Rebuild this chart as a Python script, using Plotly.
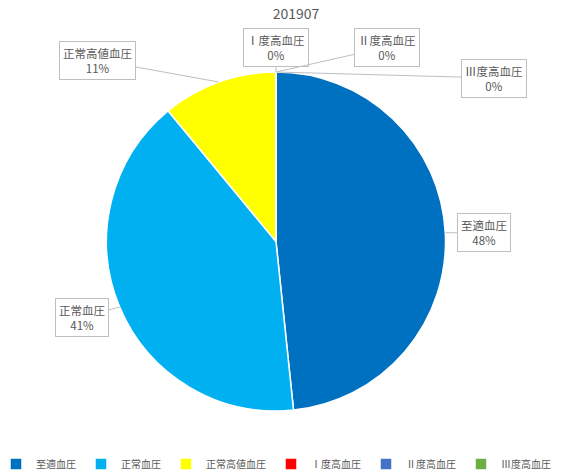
import math
import plotly.graph_objects as go

# ---- data ----
TITLE = "201907"
CATEGORIES = ["至適血圧", "正常血圧", "正常高値血圧", "Ⅰ度高血圧", "Ⅱ度高血圧", "Ⅲ度高血圧"]
COUNTS = [44, 37, 10, 0, 0, 0]

# ---- style ----
COLORS = ["#0070C0", "#00B0F0", "#FFFF00", "#FF0000", "#4472C4", "#70AD47"]
FONT = "Noto Sans CJK JP"
TEXT_COLOR = "#595959"
W, H = 571, 475
M_L, M_R, M_T, M_B = 0, 0, 72, 64
DOMAIN_X = [0.1856, 0.7811]
# pixel offsets of each callout box centre from its slice edge point
LABEL_OFFSETS = [(39, 0), (-38, 10), (-121, -22), (0, -25), (111, -25), (218, 6)]

pw = W - M_L - M_R
ph = H - M_T - M_B
cx = M_L + pw * (DOMAIN_X[0] + DOMAIN_X[1]) / 2
cy = M_T + ph / 2
R = min(pw * (DOMAIN_X[1] - DOMAIN_X[0]), ph) / 2

fig = go.Figure(
    go.Pie(
        labels=CATEGORIES,
        values=COUNTS,
        marker=dict(colors=COLORS, line=dict(color="white", width=1.5)),
        sort=False,
        direction="clockwise",
        rotation=0,
        textinfo="none",
        domain=dict(x=DOMAIN_X, y=[0, 1]),
        hoverinfo="label+percent",
    )
)

total = sum(COUNTS)
cum = 0
annotations = []
for name, v, (ox, oy) in zip(CATEGORIES, COUNTS, LABEL_OFFSETS):
    mid = (cum + v / 2) / total
    cum += v
    th = 2 * math.pi * mid
    px = cx + R * math.sin(th)
    py = cy - R * math.cos(th)
    pct = round(100 * v / total)
    annotations.append(
        dict(
            x=(px - M_L) / pw,
            y=(H - M_B - py) / ph,
            xref="paper",
            yref="paper",
            text=f"{name}<br>{pct}%",
            showarrow=True,
            arrowhead=0,
            arrowwidth=1,
            arrowcolor="#BFBFBF",
            ax=ox,
            ay=oy,
            font=dict(family=FONT, size=11.5, color=TEXT_COLOR),
            bgcolor="white",
            bordercolor="#BFBFBF",
            borderwidth=1,
            borderpad=3,
            align="center",
        )
    )

fig.update_layout(
    width=W,
    height=H,
    margin=dict(l=M_L, r=M_R, t=M_T, b=M_B, autoexpand=False),
    paper_bgcolor="white",
    plot_bgcolor="white",
    font=dict(family=FONT, color=TEXT_COLOR),
    title=dict(
        text=TITLE,
        x=296 / W,
        xanchor="center",
        y=1 - 14 / H,
        yanchor="middle",
        font=dict(family=FONT, size=14, color=TEXT_COLOR),
    ),
    showlegend=True,
    legend=dict(
        orientation="h",
        x=276 / W,
        xanchor="center",
        y=-(464 - (H - M_B)) / ph,
        yanchor="middle",
        font=dict(family=FONT, size=10, color=TEXT_COLOR),
        traceorder="normal",
        itemwidth=30,
    ),
    annotations=annotations,
)

fig.write_html(
    "out.html",
    config={"displayModeBar": False},
    post_script="document.body.style.margin='0';document.body.style.overflow='hidden';",
)
